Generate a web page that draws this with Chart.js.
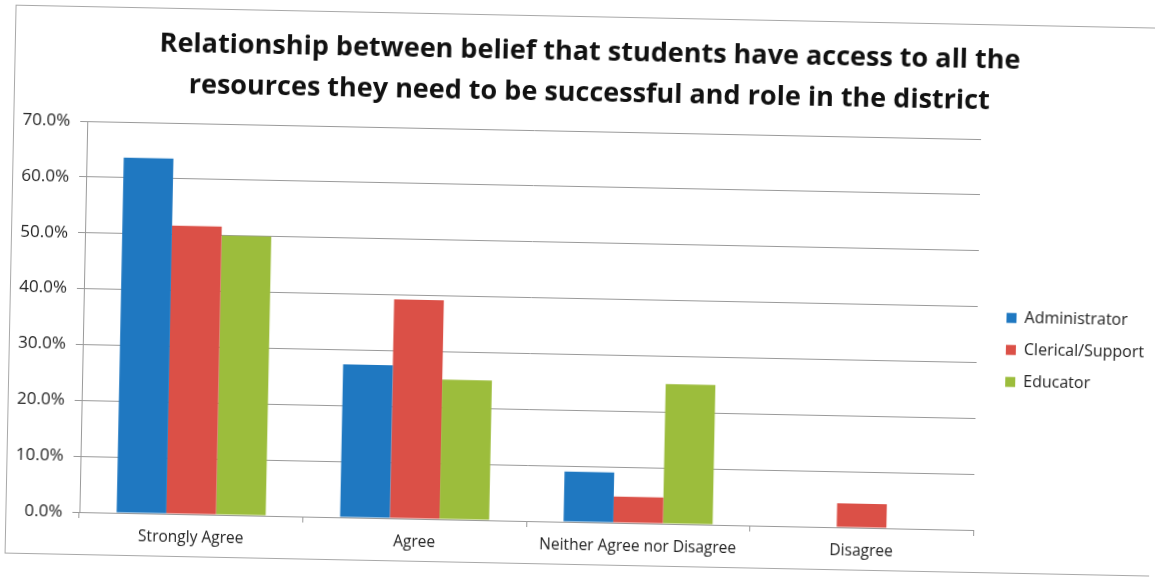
<!DOCTYPE html>
<html>
<head>
<meta charset="utf-8">
<script src="https://cdn.jsdelivr.net/npm/chart.js@4/dist/chart.umd.min.js"></script>
<style>
  html, body { margin: 0; padding: 0; background: #fff; overflow: hidden; }
  #wrap { position: absolute; left: 0; top: 0; width: 1155px; height: 577px; transform: rotate(1.15deg); transform-origin: 577.5px 288.5px; }
</style>
</head>
<body>
<div id="wrap"><canvas id="chart" width="1155" height="577"></canvas></div>
<script>
const categories = ['Strongly Agree', 'Agree', 'Neither Agree nor Disagree', 'Disagree'];
const administrator = [63.6, 27.4, 9.0, 0];
const clericalSupport = [51.6, 39.2, 4.7, 4.3];
const educator = [50.0, 25.0, 25.0, 0];
const seriesNames = ['Administrator', 'Clerical/Support', 'Educator'];
const titleLines = [
  'Relationship between belief that students have access to all the',
  'resources they need to be successful and role in the district'
];
const yTicks = { min: 0, max: 70, step: 10 };

const colors = ['#1F78C1', '#DB5047', '#9CBD3C'];
const gridGrey = '#9a9a9a';

// Thin frame around the whole chart object
const framePlugin = {
  id: 'frame',
  beforeDraw(chart) {
    const ctx = chart.ctx;
    ctx.save();
    ctx.fillStyle = '#fff';
    ctx.fillRect(0, 0, chart.width, chart.height);
    ctx.strokeStyle = '#a8a8a8';
    ctx.lineWidth = 1;
    ctx.strokeRect(10.5, 16.5, 1170, 548);
    ctx.restore();
  }
};

// Nudge the legend column away from the plot and the title a little to the right
const legendGap = 13;
const titleShift = 6.7;
const boxOffsetPlugin = {
  id: 'boxOffset',
  afterLayout(chart) {
    if (chart.legend) {
      chart.legend.left += legendGap;
      chart.legend.right += legendGap;
    }
    if (chart.titleBlock) {
      chart.titleBlock.left += titleShift;
      chart.titleBlock.right += titleShift;
    }
  }
};

new Chart(document.getElementById('chart'), {
  type: 'bar',
  data: {
    labels: categories,
    datasets: [administrator, clericalSupport, educator].map((d, i) => ({
      label: seriesNames[i],
      data: d,
      backgroundColor: colors[i],
      borderWidth: 0,
      categoryPercentage: 0.667,
      barPercentage: 1.0
    }))
  },
  options: {
    responsive: false,
    animation: false,
    layout: { padding: { left: 15, right: 12.8, top: 0, bottom: 14.4 } },
    plugins: {
      title: {
        display: true,
        text: titleLines,
        color: '#111',
        font: { family: 'Open Sans', size: 27, weight: 'bold', lineHeight: 1.528 },
        padding: { top: 31.4, bottom: 17.1 }
      },
      legend: {
        position: 'right',
        align: 'start',
        fullSize: false,
        title: { display: true, text: '', font: { size: 12, lineHeight: 1.2 }, padding: { top: 139.8, bottom: 0 } },
        labels: {
          boxWidth: 10,
          boxHeight: 10,
          padding: 16,
          color: '#222',
          font: { family: 'Open Sans', size: 16 }
        }
      },
      tooltip: { enabled: false }
    },
    scales: {
      x: {
        grid: { display: true, drawOnChartArea: false, tickLength: 6, color: gridGrey },
        border: { color: gridGrey },
        ticks: { color: '#222', padding: 8, font: { family: 'Open Sans', size: 15.5 }, maxRotation: 0, autoSkip: false }
      },
      y: {
        min: yTicks.min,
        max: yTicks.max,
        afterFit(scale) { scale.width = 69; },
        grid: { color: gridGrey, tickLength: 7 },
        border: { color: gridGrey },
        ticks: {
          stepSize: yTicks.step,
          color: '#222',
          padding: 10,
          font: { family: 'Open Sans', size: 17 },
          callback: v => v.toFixed(1) + '%'
        }
      }
    }
  },
  plugins: [framePlugin, boxOffsetPlugin]
});
</script>
</body>
</html>
